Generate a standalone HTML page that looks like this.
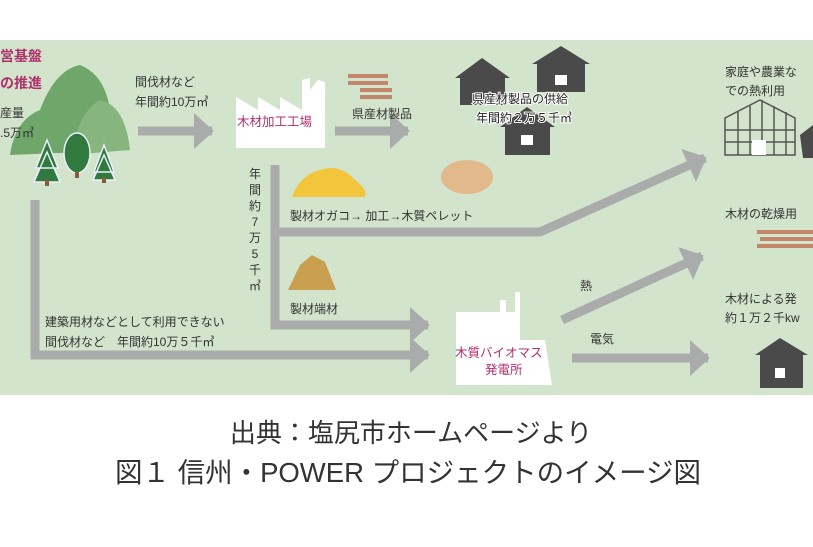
<!DOCTYPE html>
<html><head><meta charset="utf-8"><style>
html,body{margin:0;padding:0;background:#fff;}
body{width:813px;height:542px;overflow:hidden;font-family:"Liberation Sans","Noto Sans CJK JP",sans-serif;}
svg text{font-family:"Liberation Sans","Noto Sans CJK JP",sans-serif;}
</style></head><body>
<svg width="813" height="542" viewBox="0 0 813 542" xmlns="http://www.w3.org/2000/svg">
<rect x="0" y="0" width="813" height="542" fill="#fff"/>
<rect x="0" y="40" width="813" height="355" fill="#d2e5cc"/>
<defs>
<marker id="ah" markerWidth="4" markerHeight="4" refX="2" refY="2" orient="auto" markerUnits="strokeWidth">
<path d="M0,0 L2.2,2 L0,4 Z" fill="#a9acaa"/></marker>
</defs>
<g stroke="#a9acaa" stroke-width="9" fill="none">
<line x1="138" y1="131" x2="212" y2="131" marker-end="url(#ah)"/>
<line x1="335" y1="131" x2="408" y2="131" marker-end="url(#ah)"/>
<polyline points="275,165 275,325 428,325" marker-end="url(#ah)"/>
<polyline points="275,232 540,232 705,158" marker-end="url(#ah)"/>
<polyline points="35,200 35,355 428,355" marker-end="url(#ah)"/>
<line x1="562" y1="320" x2="702" y2="256" marker-end="url(#ah)"/>
<line x1="572" y1="358" x2="708" y2="358" marker-end="url(#ah)"/>
</g>
<path d="M10,155 Q15,120 40,110 Q55,70 80,65 Q105,75 110,110 L130,150 Z" fill="#6fa66a"/>
<path d="M70,155 Q80,110 100,100 Q125,105 130,150 Z" fill="#86b57e"/>
<g fill="#2f7a3c" stroke="#eef" stroke-width="1.5">
<path d="M47,140 L58,168 L36,168 Z M47,152 L60,182 L34,182 Z"/>
<ellipse cx="77" cy="153" rx="13" ry="20"/>
<path d="M104,145 L114,172 L94,172 Z M104,155 L115,180 L93,180 Z"/>
</g>
<rect x="45" y="180" width="4" height="6" fill="#8a5a3c"/><rect x="75" y="172" width="4" height="6" fill="#8a5a3c"/><rect x="102" y="178" width="4" height="5" fill="#8a5a3c"/>
<path d="M236,148 L236,97 L258,110 L258,97 L280,110 L280,97 L302,110 L302,80 L310,78 L310,90 L318,80 L325,82 L325,148 Z" fill="#fff"/>
<g fill="#c4866a"><rect x="348" y="74" width="40" height="4"/><rect x="348" y="81" width="40" height="4"/><rect x="360" y="88" width="32" height="4"/><rect x="360" y="95" width="32" height="4"/></g>
<g fill="#4a4a4a">
<path d="M455,78 L482,58 L510,78 L505,78 L505,105 L460,105 L460,78 Z"/>
<path d="M532,64 L561,46 L590,64 L585,64 L585,92 L537,92 L537,64 Z"/>
<path d="M500,127 L527,107 L555,127 L550,127 L550,155 L505,155 L505,127 Z"/>
<path d="M755,355 L780,338 L808,355 L803,355 L803,388 L760,388 L760,355 Z"/>
<path d="M800,135 L813,125 L813,158 L803,158 Z"/>
</g>
<g fill="#fff"><rect x="555" y="75" width="12" height="10"/><rect x="521" y="135" width="12" height="10"/><rect x="775" y="368" width="10" height="10"/></g>
<g stroke="#555" stroke-width="1.5" fill="none">
<path d="M725,155 L725,118 L760,100 L795,118 L795,155 Z"/>
<line x1="725" y1="130" x2="795" y2="130"/><line x1="725" y1="142" x2="795" y2="142"/>
<line x1="738" y1="112" x2="738" y2="155"/><line x1="750" y1="106" x2="750" y2="155"/><line x1="762" y1="100" x2="762" y2="155"/><line x1="774" y1="106" x2="774" y2="155"/><line x1="786" y1="112" x2="786" y2="155"/>
</g>
<rect x="752" y="140" width="14" height="15" fill="#fff"/>
<path d="M292,197 Q300,175 320,170 Q340,163 355,180 Q368,190 365,197 Z" fill="#f2c53a"/>
<ellipse cx="467" cy="177" rx="26" ry="17" fill="#e2b98a"/>
<path d="M288,290 L300,265 L312,255 L325,262 L336,290 Z" fill="#c9a04f"/>
<g fill="#c4866a"><rect x="757" y="230" width="56" height="4"/><rect x="760" y="237" width="53" height="4"/><rect x="757" y="244" width="56" height="4"/></g>
<path d="M456,385 L456,312 L500,312 L500,300 L506,300 L506,312 L515,312 L515,292 L520,292 L520,340 L545,340 L552,385 Z" fill="#fff"/>
<g font-size="14" fill="#b0306e" font-weight="bold">
<text x="0" y="61">営基盤</text><text x="0" y="88">の推進</text>
</g>
<g font-size="12.5" fill="#b0306e">
<text x="237" y="126">木材加工工場</text>
<text x="455" y="357">木質バイオマス</text>
<text x="485" y="374">発電所</text>
</g>
<g font-size="12" fill="#333">
<text x="0" y="117">産量</text><text x="0" y="137">.5万㎥</text>
<text x="135" y="86">間伐材など</text><text x="135" y="106">年間約10万㎥</text>
<text x="352" y="118">県産材製品</text>
<text x="472" y="103" fill="#222" stroke="#fff" stroke-width="2" paint-order="stroke">県産材製品の供給</text>
<text x="476" y="122" fill="#222" stroke="#fff" stroke-width="2" paint-order="stroke">年間約２万５千㎥</text>
<text x="725" y="76">家庭や農業な</text><text x="725" y="95">での熱利用</text>
<text x="290" y="220">製材オガコ→ 加工→木質ペレット</text>
<text x="725" y="218">木材の乾燥用</text>
<text x="290" y="313">製材端材</text>
<text x="580" y="290">熱</text>
<text x="590" y="343">電気</text>
<text x="725" y="303">木材による発</text><text x="725" y="322">約１万２千kw</text>
<text x="45" y="326">建築用材などとして利用できない</text>
<text x="45" y="346">間伐材など　年間約10万５千㎥</text>
</g>
<g font-size="12" fill="#333" text-anchor="middle">
<text x="255" y="178">年</text><text x="255" y="194">間</text><text x="255" y="210">約</text><text x="255" y="226">7</text><text x="255" y="242">万</text><text x="255" y="258">5</text><text x="255" y="274">千</text><text x="255" y="290">㎥</text>
</g>
<text x="411" y="442" font-size="26" fill="#333" text-anchor="middle">出典：塩尻市ホームページより</text>
<text x="408" y="482" font-size="27.5" fill="#333" text-anchor="middle">図１  信州・POWER プロジェクトのイメージ図</text>
</svg>
</body></html>
